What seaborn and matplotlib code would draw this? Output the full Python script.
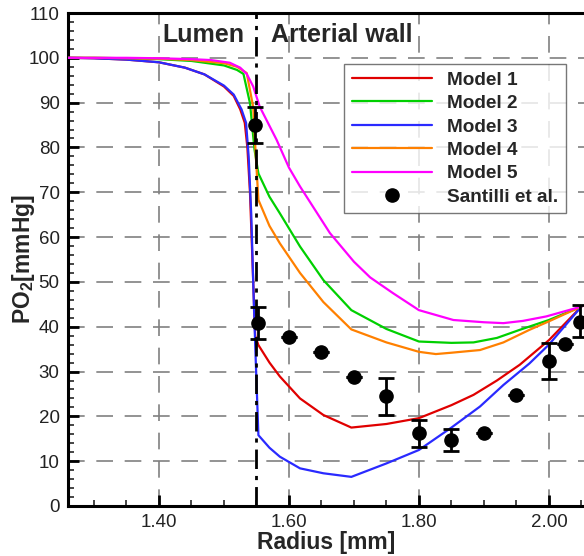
import numpy as np
import pandas as pd
import matplotlib
matplotlib.use('Agg')
import matplotlib.pyplot as plt
import seaborn as sns
from matplotlib.ticker import MultipleLocator, FormatStrFormatter

# model curves (radius in mm, PO2 in mmHg)
m1_x = [1.26, 1.30, 1.35, 1.40, 1.44, 1.47, 1.50, 1.515, 1.525, 1.532, 1.536, 1.540, 1.545, 1.548, 1.553,
        1.57, 1.586, 1.617, 1.653, 1.696, 1.75, 1.80, 1.85, 1.884, 1.92, 1.955, 2.00, 2.05]
m1_y = [100, 99.9, 99.6, 99.0, 97.8, 96.3, 93.6, 91.5, 88.5, 85.5, 80, 70, 50, 38, 35.9,
        32, 28.9, 24, 20.3, 17.5, 18.3, 19.6, 22.5, 24.8, 28, 31.5, 37.0, 44.5]

m2_x = [1.26, 1.30, 1.35, 1.40, 1.45, 1.50, 1.52, 1.53, 1.54, 1.547, 1.553, 1.57, 1.586, 1.617, 1.653,
        1.696, 1.75, 1.80, 1.85, 1.884, 1.92, 1.955, 2.00, 2.05]
m2_y = [100, 100, 99.9, 99.7, 99.3, 98.3, 97.3, 96.4, 89.9, 79.5, 74.2, 69, 65.3, 57.9, 50.4,
        43.7, 39.5, 36.7, 36.4, 36.5, 37.5, 39.3, 41.5, 44.5]

m3_x = [1.26, 1.30, 1.35, 1.40, 1.44, 1.47, 1.50, 1.515, 1.527, 1.534, 1.538, 1.542, 1.546, 1.549, 1.553,
        1.57, 1.586, 1.617, 1.653, 1.696, 1.75, 1.80, 1.85, 1.894, 1.93, 1.97, 2.00, 2.05]
m3_y = [100, 99.9, 99.6, 99.0, 97.8, 96.3, 93.8, 91.8, 88.5, 85.5, 78, 65, 45, 32, 15.8,
        13, 11.0, 8.4, 7.3, 6.5, 9.5, 12.5, 17.5, 22.2, 27, 31.8, 36, 44.5]

m4_x = [1.26, 1.30, 1.35, 1.40, 1.45, 1.50, 1.52, 1.535, 1.545, 1.549, 1.553, 1.57, 1.586, 1.617, 1.653,
        1.696, 1.75, 1.80, 1.826, 1.85, 1.894, 1.93, 1.97, 2.00, 2.05]
m4_y = [100, 100, 99.9, 99.8, 99.5, 98.8, 98.0, 96.6, 89, 78, 68.3, 62.5, 58.6, 52, 45.5,
        39.4, 36.5, 34.4, 33.9, 34.2, 34.8, 36.5, 39.3, 41.2, 44.5]

m5_x = [1.26, 1.30, 1.35, 1.40, 1.45, 1.48, 1.509, 1.525, 1.535, 1.545, 1.555, 1.581, 1.60, 1.617, 1.663,
        1.70, 1.725, 1.76, 1.80, 1.853, 1.90, 1.93, 1.96, 1.996, 2.05]
m5_y = [100, 100, 100, 99.9, 99.7, 99.5, 98.9, 97.8, 96.4, 93.6, 89.1, 81.7, 75.5, 71.3, 60.9,
        54.5, 51, 47.5, 43.7, 41.5, 41.0, 40.8, 41.3, 42.3, 44.5]

model_names = ['Model 1', 'Model 2', 'Model 3', 'Model 4', 'Model 5']
model_colors = ['#e00000', '#00d000', '#2a2aff', '#ff8000', '#ff00ff']

# Santilli et al. measurements
exp_x = [1.548, 1.553, 1.60, 1.65, 1.70, 1.75, 1.80, 1.85, 1.90, 1.95, 2.00, 2.024, 2.048]
exp_y = [85, 40.9, 37.6, 34.4, 28.7, 24.5, 16.2, 14.7, 16.2, 24.8, 32.4, 36.2, 41.1]
exp_lo = [4, 3.7, 0, 0, 0, 4.2, 3.0, 2.4, 0, 0, 4.1, 0, 3.4]
exp_hi = [4, 3.4, 0, 0, 0, 4.0, 3.0, 2.4, 0, 0, 3.9, 0, 3.8]

frames = []
for name, xs, ys in zip(model_names, [m1_x, m2_x, m3_x, m4_x, m5_x], [m1_y, m2_y, m3_y, m4_y, m5_y]):
    frames.append(pd.DataFrame({'r': xs, 'po2': ys, 'model': name}))
df = pd.concat(frames, ignore_index=True)

sns.set_style('white')
plt.rcParams['font.family'] = ['Liberation Sans', 'DejaVu Sans']
plt.rcParams['mathtext.fontset'] = 'custom'
plt.rcParams['mathtext.rm'] = 'Liberation Sans'
plt.rcParams['mathtext.bf'] = 'Liberation Sans:bold'

fig = plt.figure(figsize=(5.84, 5.56), dpi=100)
ax = fig.add_axes([68 / 584, 50 / 556, 516 / 584, 493 / 556])

ax.set_xlim(1.26, 2.054)
ax.set_ylim(0, 110)

grid_style = dict(color='#808080', lw=1.2, ls=(0, (10, 7)), zorder=0)
for gx in [1.40, 1.60, 1.80, 2.00]:
    ax.axvline(gx, **grid_style)
for gy in range(10, 110, 10):
    ax.axhline(gy, **grid_style)

sns.lineplot(data=df, x='r', y='po2', hue='model', palette=model_colors,
             sort=False, estimator=None, lw=1.6, ax=ax, zorder=3)

ax.axvline(1.55, color='black', lw=2, ls=(0, (7, 2.5, 1.5, 2.5)), zorder=4)

ax.errorbar(exp_x, exp_y, yerr=[exp_lo, exp_hi], fmt='none', ecolor='black',
            elinewidth=2, capsize=6, capthick=2, zorder=5)
ax.plot(exp_x, exp_y, 'o', color='black', ms=9.5, zorder=6, label='Santilli et al.')

ax.text(1.469, 105, 'Lumen', ha='center', va='center', fontsize=18, fontweight='bold')
ax.text(1.6815, 105, 'Arterial wall', ha='center', va='center', fontsize=18, fontweight='bold')

handles, labels = ax.get_legend_handles_labels()
leg = ax.legend(handles, labels, loc='upper right', bbox_to_anchor=(0.965, 0.897),
                borderaxespad=0, prop={'weight': 'bold', 'size': 13.7}, frameon=True,
                fancybox=False, edgecolor='#555555', handlelength=4.2, handletextpad=0.8,
                labelspacing=0.32, borderpad=0.4)
leg.get_frame().set_linewidth(1.0)

ax.xaxis.set_major_locator(MultipleLocator(0.2))
ax.xaxis.set_minor_locator(MultipleLocator(0.05))
ax.xaxis.set_major_formatter(FormatStrFormatter('%.2f'))
ax.yaxis.set_major_locator(MultipleLocator(10))
ax.yaxis.set_minor_locator(MultipleLocator(2))
ax.tick_params(which='major', direction='in', length=8, width=2, labelsize=13.5, pad=6,
               colors='black', labelcolor='#222222')
ax.tick_params(which='minor', direction='in', length=4, width=1.2)
ax.tick_params(axis='y', which='both', left=True)
ax.tick_params(axis='x', which='both', bottom=True)

for side in ['left', 'bottom', 'top']:
    ax.spines[side].set_linewidth(2.2)
    ax.spines[side].set_color('black')
ax.spines['right'].set_visible(False)

ax.set_xlabel('Radius [mm]', fontsize=16.5, fontweight='bold')
ax.set_ylabel(r'PO$_\mathbf{2}$[mmHg]', fontsize=16.5, fontweight='bold')
ax.xaxis.set_label_coords(0.5, -0.05)
ax.yaxis.set_label_coords(-0.087, 0.5)
ax.yaxis.label.set_va('center')

fig.savefig('out.png', dpi=100)
